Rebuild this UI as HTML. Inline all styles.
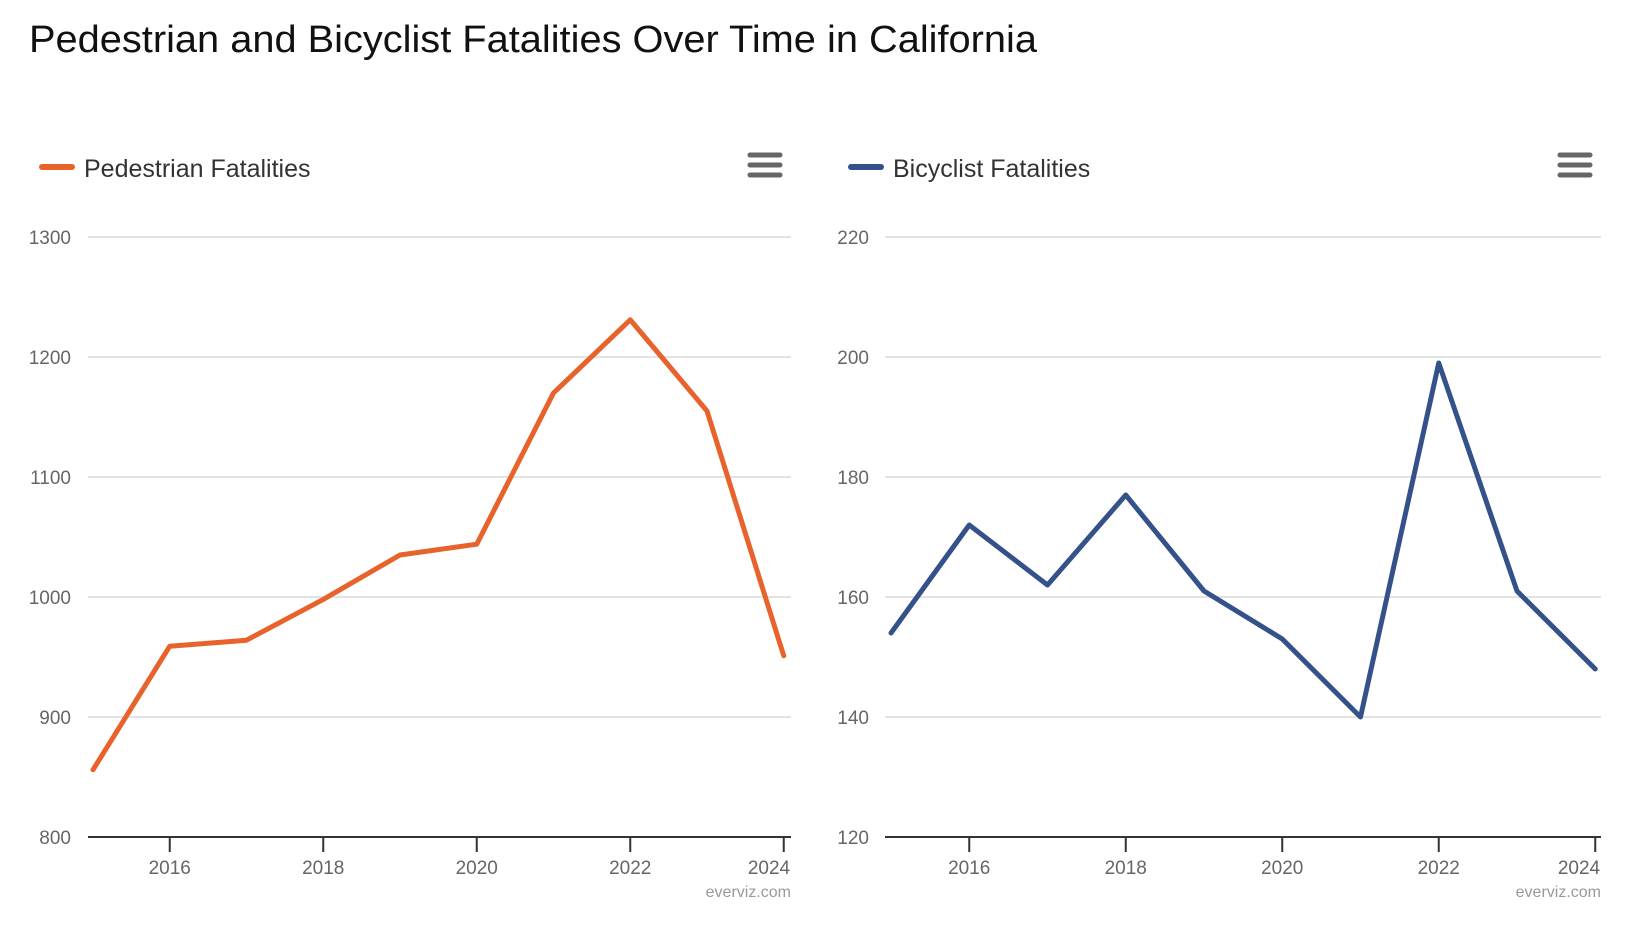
<!DOCTYPE html>
<html><head><meta charset="utf-8"><style>
body{margin:0;background:#fff;}
svg{display:block;font-family:"Liberation Sans",sans-serif;}
</style></head><body>
<svg id="c" width="1645" height="938" viewBox="0 0 1645 938" xmlns="http://www.w3.org/2000/svg">
<text x="29" y="52" font-size="38" fill="#111" textLength="1008" lengthAdjust="spacingAndGlyphs">Pedestrian and Bicyclist Fatalities Over Time in California</text>
</svg>
<script>
const years=[2015,2016,2017,2018,2019,2020,2021,2022,2023,2024];
const pedValues=[856,959,964,998,1035,1044,1170,1231,1155,951];
const bikeValues=[154,172,162,177,161,153,140,199,161,148];
const pedTicks=[800,900,1000,1100,1200,1300];
const bikeTicks=[120,140,160,180,200,220];
const xTicks=[2016,2018,2020,2022,2024];
const svg=document.getElementById('c');
const NS='http://www.w3.org/2000/svg';
function mk(tag,attrs,parent){const e=document.createElementNS(NS,tag);for(const k in attrs)e.setAttribute(k,attrs[k]);(parent||svg).appendChild(e);return e;}
function panel(o){
  const g=mk('g',{});
  
  
  const xs=v=>o.x0+(v-2015)*o.step;
  const ymin=o.ticks[0],ymax=o.ticks[o.ticks.length-1];
  const ys=v=>837-(v-ymin)/(ymax-ymin)*600;
  o.ticks.forEach((t,i)=>{
    if(i>0){const l=mk('line',{x1:o.gx0,x2:o.gx1,y1:ys(t),y2:ys(t),stroke:'#e3e3e3','stroke-width':2},g);
    
    }
    const tx=mk('text',{x:o.lx,y:ys(t)+7,'text-anchor':'end','font-size':19,fill:'#666'},g);
    
    
    tx.textContent=t;
  });
  const ax=mk('line',{x1:o.gx0,x2:o.gx1,y1:837,y2:837,stroke:'#333','stroke-width':2},g);
  
  
  xTicks.forEach(t=>{
    const tk=mk('line',{x1:xs(t),x2:xs(t),y1:837,y2:852,stroke:'#333','stroke-width':2},g);
    
    
    const tx=mk('text',{x:Math.min(xs(t),o.gx1-22),y:874,'text-anchor':'middle','font-size':19,fill:'#666'},g);
    
    
    tx.textContent=t;
  });
  const p=mk('polyline',{points:o.vals.map((v,i)=>xs(years[i])+','+ys(v)).join(' '),fill:'none',stroke:o.color,'stroke-width':5,'stroke-linejoin':'round','stroke-linecap':'round'},g);
  
  
  const lg=mk('g',{},g);
  
  
  mk('line',{x1:o.legx,x2:o.legx+30,y1:167,y2:167,stroke:o.color,'stroke-width':6,'stroke-linecap':'round'},lg);
  const lt=mk('text',{x:o.legx+42,y:177,'font-size':25,fill:'#333'},lg);
  lt.textContent=o.label;
  const mb=mk('g',{},g);
  
  
  [155,165,175].forEach(y=>mk('line',{x1:o.menux,x2:o.menux+30,y1:y,y2:y,stroke:'#666','stroke-width':5,'stroke-linecap':'round'},mb));
  const cr=mk('text',{x:o.gx1,y:897,'text-anchor':'end','font-size':16,fill:'#999'},g);
  
  
  cr.textContent='everviz.com';
}
panel({name:'pedestrian',x0:93,step:76.75,gx0:88,gx1:791,lx:71,ticks:pedTicks,vals:pedValues,color:'#e8632b',label:'Pedestrian Fatalities',legx:42,menux:750});
panel({name:'bicyclist',x0:891,step:78.25,gx0:885,gx1:1601,lx:869,ticks:bikeTicks,vals:bikeValues,color:'#34518a',label:'Bicyclist Fatalities',legx:851,menux:1560});
</script>
</body></html>
